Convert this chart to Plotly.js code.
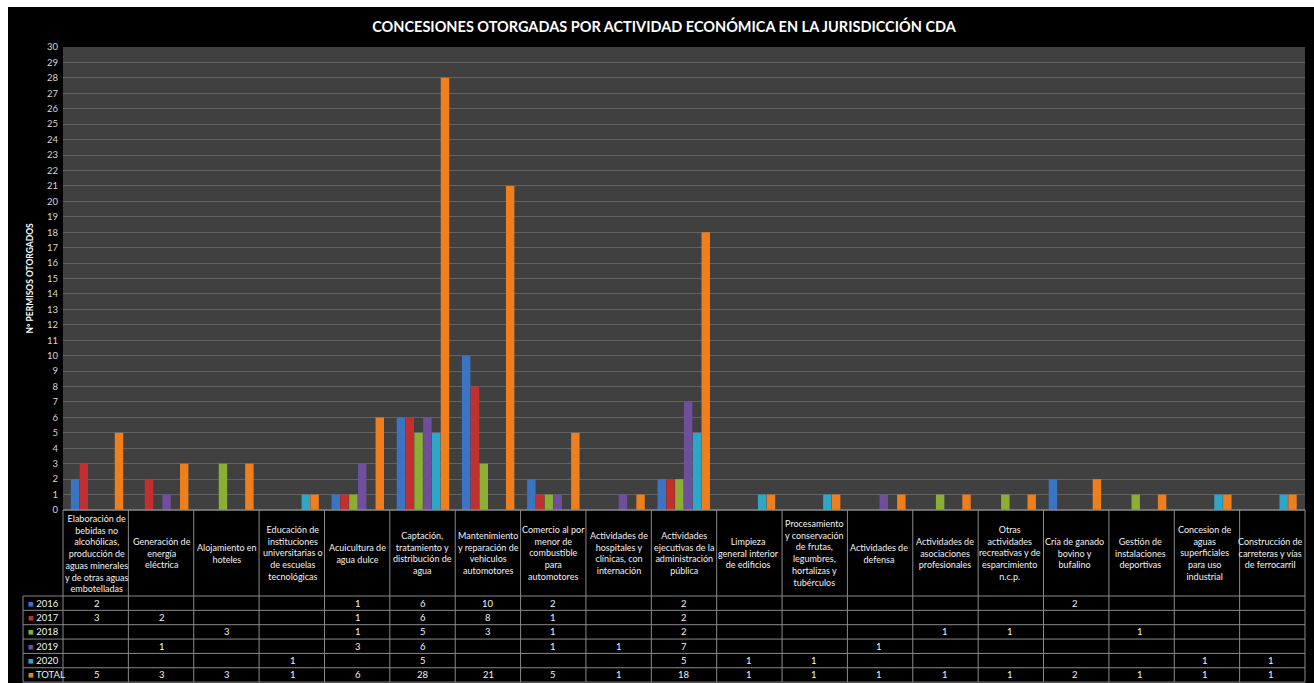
<!DOCTYPE html>
<html>
<head>
<meta charset="utf-8">
<script src="https://cdn.plot.ly/plotly-3.0.1.min.js"></script>
<style>
  html, body { margin: 0; padding: 0; background: #ffffff; width: 1314px; height: 683px; overflow: hidden; }
  #chart { position: absolute; left: 8px; top: 7px; width: 1306px; height: 676px; }
</style>
</head>
<body>
<div id="chart"></div>
<script>
// ---------------- DATA ----------------
const categories = [
  "Elaboración de<br>bebidas no<br>alcohólicas,<br>producción de<br>aguas minerales<br>y de otras aguas<br>embotelladas",
  "Generación de<br>energía<br>eléctrica",
  "Alojamiento en<br>hoteles",
  "Educación de<br>instituciones<br>universitarias o<br>de escuelas<br>tecnológicas",
  "Acuicultura de<br>agua dulce",
  "Captación,<br>tratamiento y<br>distribución de<br>agua",
  "Mantenimiento<br>y reparación de<br>vehículos<br>automotores",
  "Comercio al por<br>menor de<br>combustible<br>para<br>automotores",
  "Actividades de<br>hospitales y<br>clínicas, con<br>internación",
  "Actividades<br>ejecutivas de la<br>administración<br>pública",
  "Limpieza<br>general interior<br>de edificios",
  "Procesamiento<br>y conservación<br>de frutas,<br>legumbres,<br>hortalizas y<br>tubérculos",
  "Actividades de<br>defensa",
  "Actividades de<br>asociaciones<br>profesionales",
  "Otras<br>actividades<br>recreativas y de<br>esparcimiento<br>n.c.p.",
  "Cría de ganado<br>bovino y<br>bufalino",
  "Gestión de<br>instalaciones<br>deportivas",
  "Concesion de<br>aguas<br>superficiales<br>para uso<br>industrial",
  "Construcción de<br>carreteras y vías<br>de ferrocarril"
];

const seriesNames = ["2016", "2017", "2018", "2019", "2020", "TOTAL"];

const v2016  = [2, null, null, null, 1, 6, 10, 2, null, 2, null, null, null, null, null, 2, null, null, null];
const v2017  = [3, 2, null, null, 1, 6, 8, 1, null, 2, null, null, null, null, null, null, null, null, null];
const v2018  = [null, null, 3, null, 1, 5, 3, 1, null, 2, null, null, null, 1, 1, null, 1, null, null];
const v2019  = [null, 1, null, null, 3, 6, null, 1, 1, 7, null, null, 1, null, null, null, null, null, null];
const v2020  = [null, null, null, 1, null, 5, null, null, null, 5, 1, 1, null, null, null, null, null, 1, 1];
const vTotal = [5, 3, 3, 1, 6, 28, 21, 5, 1, 18, 1, 1, 1, 1, 1, 2, 1, 1, 1];

const yTicks = [0,1,2,3,4,5,6,7,8,9,10,11,12,13,14,15,16,17,18,19,20,21,22,23,24,25,26,27,28,29,30];

const titleText = "CONCESIONES OTORGADAS POR ACTIVIDAD ECONÓMICA EN LA JURISDICCIÓN CDA";
const yTitleText = "Nº PERMISOS OTORGADOS";

// ---------------- STYLE ----------------
const allSeries = [v2016, v2017, v2018, v2019, v2020, vTotal];
const colors = ["#3a74c2", "#c1302e", "#8bae35", "#6f4e9e", "#2ea6c8", "#ef7f1d"];
const FONT = "Lato, 'Open Sans', sans-serif";

// page-pixel -> paper helpers (plot area: x 63..1305, y 47..510 on page)
const PLOT_L = 63, PLOT_R = 1305, PLOT_T = 47, PLOT_B = 510;
const px = x => (x - PLOT_L) / (PLOT_R - PLOT_L);
const py = y => (PLOT_B - y) / (PLOT_B - PLOT_T);

const HEADER_BOTTOM = 596;
const ROW_H = 14.35;
const TABLE_BOTTOM = HEADER_BOTTOM + ROW_H * 6;
const LABEL_L = 23;
const LINE_COLOR = "#8a8a8a";

// ---------------- TRACES ----------------
const traces = allSeries.map((vals, k) => ({
  type: "bar",
  name: seriesNames[k],
  x: categories,
  y: vals,
  marker: { color: colors[k], line: { width: 0 } },
  hoverinfo: "x+y+name"
}));

// ---------------- TABLE (shapes + annotations) ----------------
const shapes = [];
const annotations = [];

for (let i = 0; i <= categories.length; i++) {
  shapes.push({
    type: "line", xref: "paper", yref: "paper",
    x0: i / categories.length, x1: i / categories.length,
    y0: py(PLOT_B), y1: py(TABLE_BOTTOM),
    line: { color: LINE_COLOR, width: 1 }
  });
}
shapes.push({
  type: "line", xref: "paper", yref: "paper",
  x0: px(LABEL_L), x1: px(LABEL_L), y0: py(HEADER_BOTTOM), y1: py(TABLE_BOTTOM),
  line: { color: LINE_COLOR, width: 1 }
});
shapes.push({
  type: "line", xref: "paper", yref: "paper",
  x0: 0, x1: 1, y0: 0, y1: 0,
  line: { color: LINE_COLOR, width: 1.5 }
});
for (let r = 0; r <= seriesNames.length; r++) {
  const yy = HEADER_BOTTOM + r * ROW_H;
  shapes.push({
    type: "line", xref: "paper", yref: "paper",
    x0: px(LABEL_L), x1: 1, y0: py(yy), y1: py(yy),
    line: { color: LINE_COLOR, width: 1 }
  });
}

categories.forEach((c, i) => {
  annotations.push({
    xref: "x", yref: "paper", x: c, y: py((PLOT_B + HEADER_BOTTOM) / 2),
    text: c, showarrow: false, xanchor: "center", yanchor: "middle", align: "center",
    font: { family: FONT, size: 9, color: "#f2f2f2" }
  });
});

seriesNames.forEach((name, r) => {
  const yc = py(HEADER_BOTTOM + (r + 0.5) * ROW_H);
  annotations.push({
    xref: "paper", yref: "paper", x: px(LABEL_L + 3), y: yc,
    text: '<span style="color:' + colors[r] + '">■</span> ' + name,
    showarrow: false, xanchor: "left", yanchor: "middle",
    font: { family: FONT, size: 9.5, color: "#f2f2f2" }
  });
  allSeries[r].forEach((v, i) => {
    if (v === null) return;
    annotations.push({
      xref: "x", yref: "paper", x: categories[i], y: yc,
      text: String(v), showarrow: false, xanchor: "center", yanchor: "middle",
      font: { family: FONT, size: 9.5, color: "#f2f2f2" }
    });
  });
});

annotations.push({
  xref: "paper", yref: "paper", x: px(29), y: 0.5,
  text: "<b>" + yTitleText + "</b>", textangle: -90, showarrow: false,
  xanchor: "center", yanchor: "middle",
  font: { family: FONT, size: 8.5, color: "#ffffff" }
});

// ---------------- LAYOUT ----------------
const layout = {
  width: 1306, height: 676,
  margin: { l: 55, r: 9, t: 40, b: 173, pad: 0 },
  paper_bgcolor: "#000000",
  plot_bgcolor: "#404040",
  title: {
    text: "<b>" + titleText + "</b>",
    font: { family: FONT, size: 14.5, color: "#ffffff" },
    x: (664 - 8) / 1306, xref: "container", xanchor: "center",
    y: 1 - 20 / 676, yref: "container", yanchor: "middle"
  },
  barmode: "group",
  bargap: 0.19,
  bargroupgap: 0.04,
  showlegend: false,
  xaxis: {
    type: "category",
    showticklabels: false, showgrid: false, zeroline: false, showline: false,
    ticks: "", fixedrange: true
  },
  yaxis: {
    range: [0, 30],
    tickvals: yTicks,
    ticktext: yTicks.map(String),
    tickfont: { family: FONT, size: 9.5, color: "#d6d6d6" },
    gridcolor: "#626262", gridwidth: 1,
    zeroline: false, showline: false, ticks: "",
    ticklabelstandoff: 4,
    fixedrange: true
  },
  shapes: shapes,
  annotations: annotations
};

Plotly.newPlot("chart", traces, layout, { displayModeBar: false, staticPlot: true });
</script>
</body>
</html>
